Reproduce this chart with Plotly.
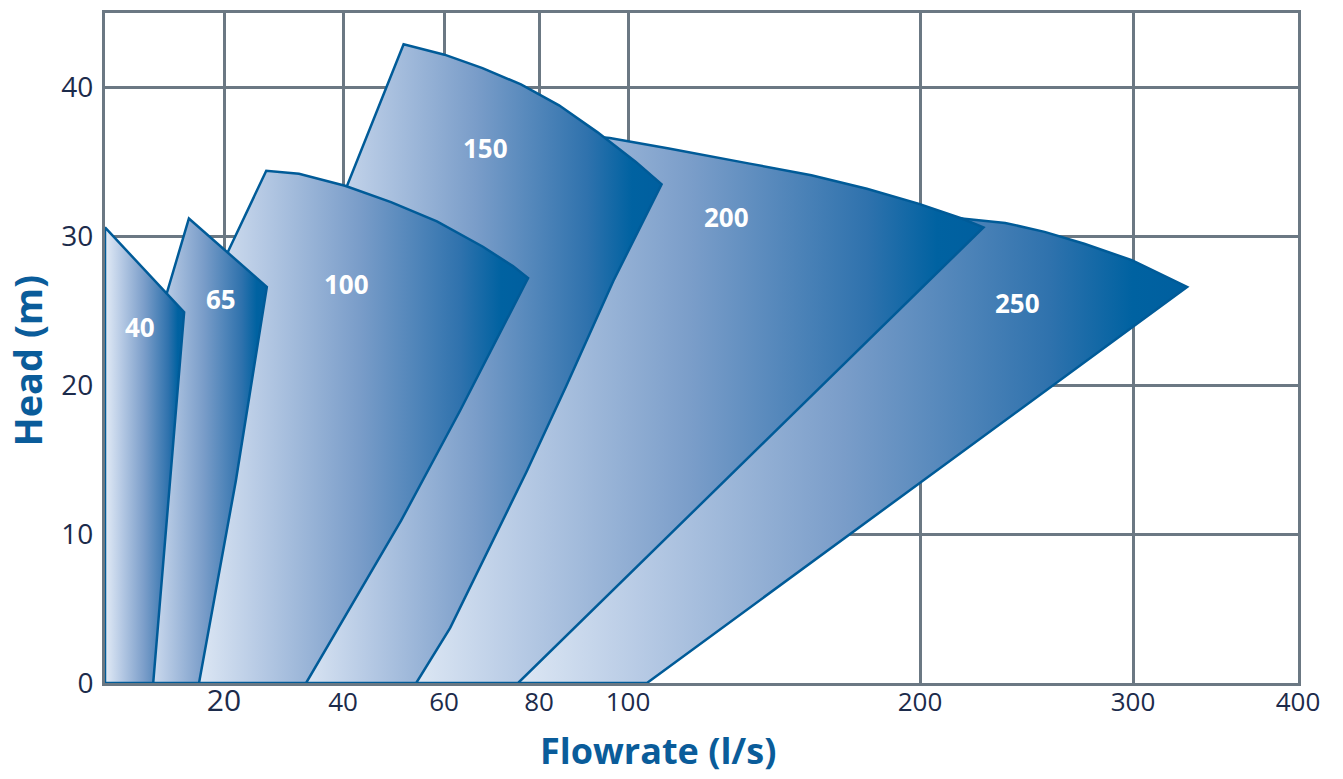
import numpy as np
import plotly.graph_objects as go

# ---- axis scale (the printed chart uses an irregular flow scale) ----
GRID_FLOW = [0, 20, 40, 60, 80, 100, 200, 300, 400]
GRID_POS = [0, 119, 238, 339, 434, 523, 815, 1028, 1193]
X_TICK_LABELS = ["20", "40", "60", "80", "100", "200", "300", "400"]
Y_TICKS = [0, 10, 20, 30, 40]

# ---- pump envelopes: flow (l/s) and head (m) ----
names = ["250", "200", "150", "100", "65", "40"]

flow_250 = [71.8, 209.4, 219.6, 240.0, 258.5, 277.1, 299.4, 318.4, 332.8, 106.5]
head_250 = [0, 31.3, 31.2, 30.9, 30.3, 29.5, 28.4, 27.4, 26.6, 0]

flow_200 = [51.5, 92.6, 95.9, 114.0, 141.2, 162.8, 181.8, 199.4, 219.6, 229.8, 75.6]
head_200 = [0, 36.7, 36.6, 35.9, 34.9, 34.1, 33.2, 32.2, 31.2, 30.6, 0]

flow_150 = [31.1, 40.8, 52.0, 60.1, 68.1, 76.2, 84.5, 93.1, 102.7, 111.5,
            96.7, 86.2, 77.4, 68.3, 61.3, 54.5]
head_150 = [0, 33.4, 42.9, 42.2, 41.3, 40.2, 38.8, 37.0, 35.0, 33.5,
            27.0, 20.0, 14.2, 8.2, 3.7, 0]

flow_100 = [14.3, 20.7, 27.1, 32.6, 40.4, 49.5, 58.6, 68.2, 74.5, 77.7, 63.4, 51.5, 33.8]
head_100 = [0, 29.0, 34.4, 34.2, 33.4, 32.3, 31.0, 29.3, 28.0, 27.2, 18.3, 10.9, 0]

flow_65 = [5.9, 10.4, 14.1, 27.2, 22.0, 15.8]
head_65 = [0, 26.2, 31.2, 26.6, 13.6, 0]

flow_40 = [0, 0, 13.3, 10.9, 8.1]
head_40 = [0, 30.6, 24.9, 13.6, 0]

label_flow = [246.0, 133.6, 68.8, 40.6, 19.5, 5.9]
label_head = [25.5, 31.3, 35.9, 26.8, 25.8, 23.9]

flows = [flow_250, flow_200, flow_150, flow_100, flow_65, flow_40]
heads = [head_250, head_200, head_150, head_100, head_65, head_40]


def to_axis(f):
    return np.interp(np.asarray(f, dtype=float), GRID_FLOW, GRID_POS)


OUTLINE = "#005b98"
GRID = "#6b7883"
TICK_COLOR = "#1c2b4b"
TITLE_COLOR = "#0a5c9a"
SCALE = [[0, "#e2ebf6"], [0.2, "#b8cbe5"], [0.5, "#7a9dc9"],
         [0.8, "#2f72ad"], [0.92, "#0062a1"], [1, "#005f9f"]]

fig = go.Figure()
for n, f, h in zip(names, flows, heads):
    xs = list(to_axis(f)) + [to_axis(f[0]).item()]
    ys = list(h) + [h[0]]
    fig.add_trace(go.Scatter(
        x=xs, y=ys, mode="lines", fill="toself", name=n,
        line=dict(color=OUTLINE, width=2.5),
        fillgradient=dict(type="horizontal", colorscale=SCALE),
        hoverinfo="skip", showlegend=False,
    ))

for n, lf, lh in zip(names, label_flow, label_head):
    fig.add_annotation(x=to_axis(lf).item(), y=lh, text=n, showarrow=False,
                       font=dict(family="Open Sans", size=26, color="white", weight="bold"))

tick_text = ["<span style='font-size:30px'>20</span>"] + X_TICK_LABELS[1:]

fig.update_xaxes(
    range=[GRID_POS[0], GRID_POS[-1]],
    tickmode="array", tickvals=GRID_POS[1:], ticktext=tick_text,
    showgrid=True, gridcolor=GRID, gridwidth=3,
    showline=True, linecolor=GRID, linewidth=3, mirror=True,
    zeroline=False, ticks="", ticklabelstandoff=-6,
    tickfont=dict(family="Open Sans", size=26, color=TICK_COLOR),
    layer="below traces", fixedrange=True,
)
fig.update_yaxes(
    range=[0, 45],
    tickmode="array", tickvals=Y_TICKS, ticktext=[str(v) for v in Y_TICKS],
    showgrid=True, gridcolor=GRID, gridwidth=3,
    showline=True, linecolor=GRID, linewidth=3, mirror=True,
    zeroline=False, ticks="", ticklabelstandoff=3,
    tickfont=dict(family="Open Sans", size=28, color=TICK_COLOR),
    layer="below traces", fixedrange=True,
)

fig.add_annotation(xref="paper", yref="paper", x=0.4635, y=-0.1397, text="Flowrate (l/s)",
                   showarrow=False, xanchor="center", yanchor="bottom",
                   font=dict(family="Open Sans", size=36, color=TITLE_COLOR, weight="bold"))
fig.add_annotation(xref="paper", yref="paper", x=-0.0654, y=0.4814, text="Head (m)",
                   showarrow=False, xanchor="center", yanchor="middle", textangle=-90,
                   font=dict(family="Open Sans", size=38, color=TITLE_COLOR, weight="bold"))

fig.update_layout(
    width=1343, height=779,
    margin=dict(l=105, r=45, t=10, b=96),
    paper_bgcolor="white", plot_bgcolor="white",
    showlegend=False,
)

fig.write_html("out.html", config={"displayModeBar": False},
               post_script="document.body.style.margin='0';document.body.style.overflow='hidden';")
